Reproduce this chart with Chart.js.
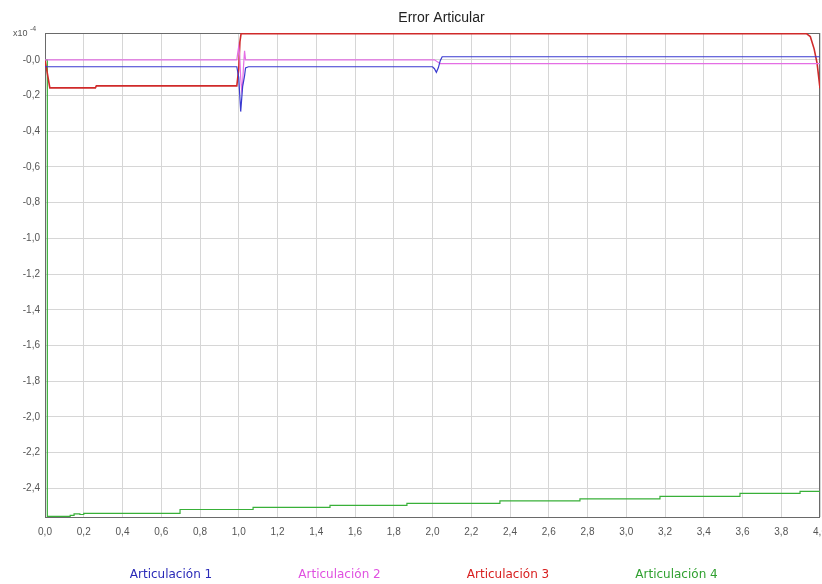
<!DOCTYPE html>
<html>
<head>
<meta charset="utf-8">
<script src="https://cdn.jsdelivr.net/npm/chart.js@4"></script>
<style>
  html, body { margin: 0; padding: 0; background: #fff; overflow: hidden; width: 822px; height: 584px; }
  #wrap { width: 822px; height: 584px; overflow: hidden; }
  canvas { display: block; }
</style>
</head>
<body>
<div id="wrap"><canvas id="c" width="850" height="584"></canvas></div>
<script>
// ---- Texts ----
const chartTitle = 'Error Articular';
const seriesNames = ['Articulación 1', 'Articulación 2', 'Articulación 3', 'Articulación 4'];
const axisMultiplier = ['x10', '-4'];

// ---- Tick values and labels ----
const xTickValues = [0, 0.2, 0.4, 0.6, 0.8, 1.0, 1.2, 1.4, 1.6, 1.8, 2.0, 2.2, 2.4, 2.6, 2.8, 3.0, 3.2, 3.4, 3.6, 3.8, 4.0];
const xTickLabels = ['0,0', '0,2', '0,4', '0,6', '0,8', '1,0', '1,2', '1,4', '1,6', '1,8', '2,0', '2,2', '2,4', '2,6', '2,8', '3,0', '3,2', '3,4', '3,6', '3,8', '4,0'];
const yTickValues = [-2.4, -2.2, -2.0, -1.8, -1.6, -1.4, -1.2, -1.0, -0.8, -0.6, -0.4, -0.2, 0.0];
const yTickLabels = ['-2,4', '-2,2', '-2,0', '-1,8', '-1,6', '-1,4', '-1,2', '-1,0', '-0,8', '-0,6', '-0,4', '-0,2', '-0,0'];

// ---- Series: time (s) and error ----
const art1Time  = [0, 0.99, 1.0, 1.01, 1.02, 1.03, 1.035, 1.05, 2.0, 2.01, 2.02, 2.03, 2.04, 2.05, 4.0];
const art1Error = [-0.039, -0.039, -0.10, -0.29, -0.15, -0.09, -0.045, -0.039, -0.039, -0.05, -0.07, -0.045, -0.005, 0.017, 0.017];

const art2Time  = [0, 0.99, 0.995, 1.0, 1.005, 1.01, 1.015, 1.02, 1.025, 1.03, 1.035, 2.01, 2.04, 4.0];
const art2Error = [0, 0, 0.04, 0.075, 0.02, -0.10, -0.17, -0.13, -0.03, 0.05, 0, 0, -0.022, -0.022];

const art3Time  = [0, 0.025, 0.26, 0.265, 0.99, 1.0, 1.006, 1.012, 3.93, 3.95, 3.97, 3.985, 4.0];
const art3Error = [0, -0.157, -0.157, -0.146, -0.146, -0.05, 0.10, 0.146, 0.146, 0.13, 0.06, -0.02, -0.16];

const art4Time  = [0, 0.012, 0.13, 0.15, 0.18, 0.2, 0.697, 1.074, 1.471, 1.868, 2.348, 2.761, 3.174, 3.587, 3.897, 4.0];
const art4Error = [0, -2.557, -2.551, -2.543, -2.546, -2.54, -2.518, -2.506, -2.495, -2.484, -2.47, -2.459, -2.445, -2.428, -2.417, -2.417];

// ---- Styling ----
const lineColors = ['#3a3ad0', '#e46ee4', '#d02a2a', '#38b038'];
const legendColors = ['#2a2ab8', '#e050e0', '#d82020', '#30a030'];

const toPoints = (ts, vs) => ts.map((t, i) => ({ x: t, y: vs[i] }));

// Frame around the plotting area (drawn beneath the lines)
const framePlugin = {
  id: 'frame',
  beforeDatasetsDraw(chart) {
    const { ctx, chartArea: a } = chart;
    ctx.save();
    ctx.strokeStyle = '#6a6a6a';
    ctx.lineWidth = 1;
    ctx.strokeRect(a.left + 0.5, a.top + 0.5, a.right - a.left - 1, a.bottom - a.top);
    ctx.restore();
  }
};

// Title, exponent note and text-only legend
const textPlugin = {
  id: 'texts',
  afterDraw(chart) {
    const { ctx, chartArea: a } = chart;
    ctx.save();
    ctx.fillStyle = '#222';
    ctx.font = '14px "Liberation Sans", Arial, sans-serif';
    ctx.textAlign = 'center';
    ctx.textBaseline = 'middle';
    ctx.fillText(chartTitle, (a.left + a.right) / 2 + 9, 18);

    ctx.fillStyle = '#555';
    ctx.textAlign = 'left';
    ctx.font = '9px "Liberation Sans", Arial, sans-serif';
    ctx.fillText(axisMultiplier[0], 13, a.top + 1);
    ctx.font = '7px "Liberation Sans", Arial, sans-serif';
    ctx.fillText(axisMultiplier[1], 30, a.top - 4);

    ctx.font = '12px "DejaVu Sans", sans-serif';
    ctx.textAlign = 'center';
    chart.data.datasets.forEach((ds, i) => {
      ctx.fillStyle = legendColors[i];
      ctx.fillText(ds.label, 171 + 168.5 * i, 575);
    });
    ctx.restore();
  }
};

const lineStyle = { borderWidth: 1.2, pointRadius: 0, tension: 0, fill: false };

new Chart(document.getElementById('c'), {
  type: 'line',
  data: {
    datasets: [
      Object.assign({ label: seriesNames[0], data: toPoints(art1Time, art1Error), borderColor: lineColors[0] }, lineStyle),
      Object.assign({ label: seriesNames[1], data: toPoints(art2Time, art2Error), borderColor: lineColors[1] }, lineStyle),
      Object.assign({ label: seriesNames[2], data: toPoints(art3Time, art3Error), borderColor: lineColors[2] }, lineStyle, { borderWidth: 1.6 }),
      Object.assign({ label: seriesNames[3], data: toPoints(art4Time, art4Error), borderColor: lineColors[3], stepped: true }, lineStyle)
    ]
  },
  options: {
    responsive: false,
    devicePixelRatio: 1,
    animation: false,
    layout: { padding: { left: 0, right: 30, top: 33, bottom: 0 } },
    plugins: { legend: { display: false }, title: { display: false }, tooltip: { enabled: false } },
    scales: {
      x: {
        type: 'linear',
        min: 0, max: 4,
        afterBuildTicks: s => { s.ticks = xTickValues.map(v => ({ value: v })); },
        afterFit: s => { s.height = 67; },
        border: { display: false },
        grid: { color: '#d6d6d6', drawTicks: false },
        ticks: {
          autoSkip: false, maxRotation: 0, padding: 9, color: '#555',
          font: { family: '"Liberation Sans", Arial, sans-serif', size: 10 },
          callback: (v, i) => xTickLabels[i]
        }
      },
      y: {
        min: -2.56, max: 0.15,
        afterBuildTicks: s => { s.ticks = yTickValues.map(v => ({ value: v })); },
        afterFit: s => { s.width = 45; },
        border: { display: false },
        grid: { color: '#d6d6d6', drawTicks: false },
        ticks: {
          padding: 5, color: '#555',
          font: { family: '"Liberation Sans", Arial, sans-serif', size: 10 },
          callback: (v, i) => yTickLabels[i]
        }
      }
    }
  },
  plugins: [framePlugin, textPlugin]
});
</script>
</body>
</html>
